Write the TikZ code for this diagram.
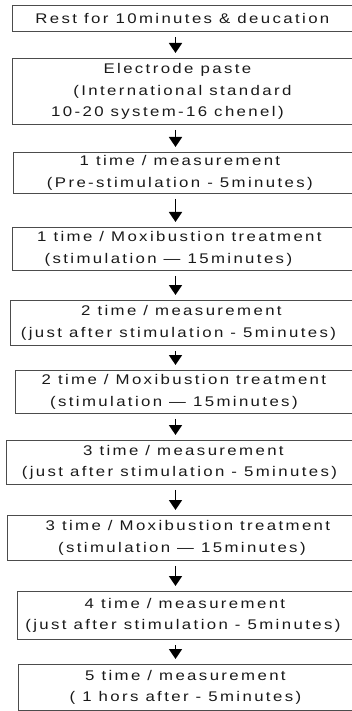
\documentclass[tikz,border=0pt]{standalone}
\usepackage{fontspec}
\setmainfont{Liberation Sans}[LetterSpace=17,FakeStretch=1.2]
\usetikzlibrary{arrows.meta}
\newcommand{\shl}[2]{#2\hspace*{#1}}
\newcommand{\shr}[2]{\hspace*{#1}#2}
\begin{document}
\begin{tikzpicture}[x=1pt,y=-1pt,
  font=\fontsize{14}{21.5}\selectfont,
  box/.style={draw=black!70, line width=0.8pt, align=center, inner sep=0pt, anchor=north west, text=black!90},
  arr/.style={line width=1.8pt, -{Triangle[width=13pt,length=10pt]}, shorten <=5pt, shorten >=5pt}]
\useasboundingbox (0,0) rectangle (351,711);
\coordinate (ax) at (175.5,0);
\node[box, minimum width=340pt, minimum height=26pt] (b1) at (12,5) {Rest for 10minutes \& deucation};
\node[box, minimum width=340pt, minimum height=66pt] (b2) at (12,58) {\shl{10pt}{Electrode paste}\\\shl{30pt}{(International standard}\\\shl{30pt}{10-20 system-16 chenel)}};
\node[box, minimum width=339pt, minimum height=41pt] (b3) at (13,152) {\shl{6pt}{1 time / measurement}\\\shl{6pt}{(Pre-stimulation - 5minutes)}};
\node[box, minimum width=340pt, minimum height=43pt] (b4) at (12,227) {\shl{6pt}{1 time / Moxibustion treatment}\\\shl{28pt}{(stimulation — 15minutes)}};
\node[box, minimum width=342pt, minimum height=45pt] (b5) at (10,300) {2 time / measurement\\\shl{6pt}{(just after stimulation - 5minutes)}};
\node[box, minimum width=337pt, minimum height=43pt] (b6) at (15,370) {2 time / Moxibustion treatment\\\shl{20pt}{(stimulation — 15minutes)}};
\node[box, minimum width=346pt, minimum height=44pt] (b7) at (6,440) {\shr{8pt}{3 time / measurement}\\(just after stimulation - 5minutes)};
\node[box, minimum width=345pt, minimum height=45pt] (b8) at (7,515) {\shr{16pt}{3 time / Moxibustion treatment}\\\shr{4pt}{(stimulation — 15minutes)}};
\node[box, minimum width=335pt, minimum height=48pt] (b9) at (17,591) {4 time / measurement\\\shl{4pt}{(just after stimulation - 5minutes)}};
\node[box, minimum width=334pt, minimum height=46pt] (b10) at (18,664) {5 time / measurement\\( 1 hors after - 5minutes)};
\foreach \a/\b in {b1/b2,b2/b3,b3/b4,b4/b5,b5/b6,b6/b7,b7/b8,b8/b9,b9/b10}
  \draw[arr] (\a.south -| ax) -- (\b.north -| ax);
\end{tikzpicture}
\end{document}
